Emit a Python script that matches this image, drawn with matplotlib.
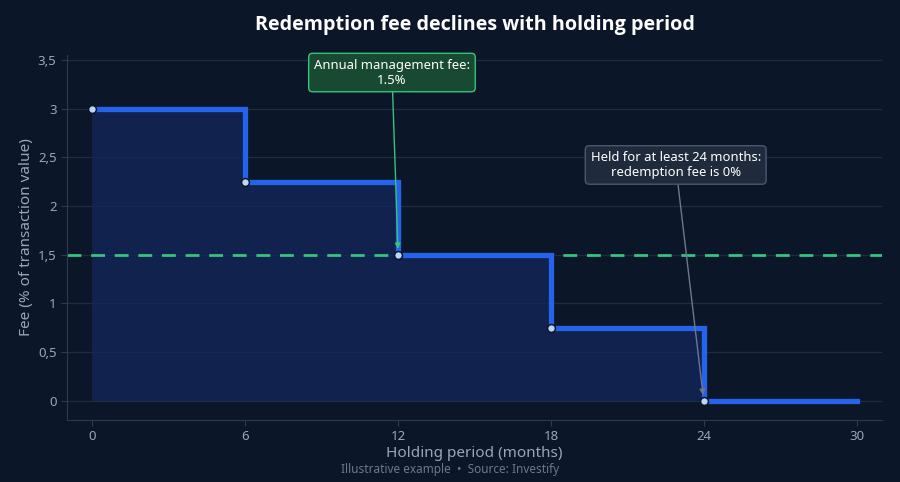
import matplotlib
matplotlib.use("Agg")
import matplotlib.pyplot as plt
from matplotlib.ticker import FuncFormatter

plt.rcParams['font.family'] = ['Noto Sans', 'DejaVu Sans']

months = [0, 6, 12, 18, 24, 30]
fee = [3.0, 2.25, 1.5, 0.75, 0.0, 0.0]
marker_months = [0, 6, 12, 18, 24]
marker_fee = [3.0, 2.25, 1.5, 0.75, 0.0]
mgmt_fee = 1.5
x_ticks = [0, 6, 12, 18, 24, 30]
y_ticks = [0, 0.5, 1, 1.5, 2, 2.5, 3, 3.5]

BG = '#0b1628'
GRID = '#1e2b40'
TXT = '#9aa6b8'
BLUE = '#2563eb'
GREEN = '#34c47c'

fig = plt.figure(figsize=(9, 4.82), dpi=100, facecolor=BG)
ax = fig.add_axes([67/900, 1-420/482, (882-67)/900, (420-55)/482])
ax.set_facecolor(BG)

ax.fill_between(months, fee, 0, step='post', color='#12275a', alpha=0.75, linewidth=0, zorder=1)
ax.step(months, fee, where='post', color=BLUE, linewidth=3.8, zorder=3, solid_joinstyle='miter')
ax.axhline(mgmt_fee, color=GREEN, linestyle=(0, (5, 3.5)), linewidth=2, zorder=2)
ax.scatter(marker_months, marker_fee, s=32, color='#bcd6fb', edgecolor='#0b1628', linewidth=1.1, zorder=5)

ax.set_xlim(-1, 31)
ax.set_ylim(-0.2, 3.55)
ax.set_xticks(x_ticks)
ax.set_yticks(y_ticks)
ax.yaxis.set_major_formatter(FuncFormatter(lambda v, p: (f'{v:g}').replace('.', ',')))
ax.grid(axis='y', color=GRID, linewidth=1)
ax.set_axisbelow(True)
for s in ['top', 'right']:
    ax.spines[s].set_visible(False)
for s in ['left', 'bottom']:
    ax.spines[s].set_color('#2c3a52')
ax.tick_params(colors=TXT, labelsize=9.5, length=4, color='#2c3a52')
ax.set_xlabel('Holding period (months)', color=TXT, fontsize=11, labelpad=2)
ax.set_ylabel('Fee (% of transaction value)', color=TXT, fontsize=11, labelpad=3)

fig.text(474.5/900, 1-25/482, 'Redemption fee declines with holding period', ha='center', va='center',
         color='white', fontsize=14.2, fontweight='bold', family=['Open Sans', 'DejaVu Sans'])
fig.text(0.5, 1-469/482, 'Illustrative example  \u2022  Source: Investify', ha='center', va='center',
         color='#6b788c', fontsize=8.5)

ax.annotate('Annual management fee:\n1.5%', xy=(12, 1.5), xytext=(11.76, 3.37),
            ha='center', va='center', color='white', fontsize=9.4, zorder=6,
            bbox=dict(boxstyle='round,pad=0.4,rounding_size=0.3', fc='#174a30', ec=GREEN, lw=1),
            arrowprops=dict(arrowstyle='-|>', color=GREEN, lw=1, mutation_scale=8,
                            shrinkA=0, shrinkB=4))
ax.annotate('Held for at least 24 months:\nredemption fee is 0%', xy=(24, 0), xytext=(22.9, 2.42),
            ha='center', va='center', color='white', fontsize=9.4, zorder=6,
            bbox=dict(boxstyle='round,pad=0.4,rounding_size=0.3', fc='#1f2b3d', ec='#4a5870', lw=1),
            arrowprops=dict(arrowstyle='-|>', color='#6b7890', lw=1, mutation_scale=8,
                            shrinkA=0, shrinkB=4))

fig.savefig('out.png', dpi=100, facecolor=BG)
